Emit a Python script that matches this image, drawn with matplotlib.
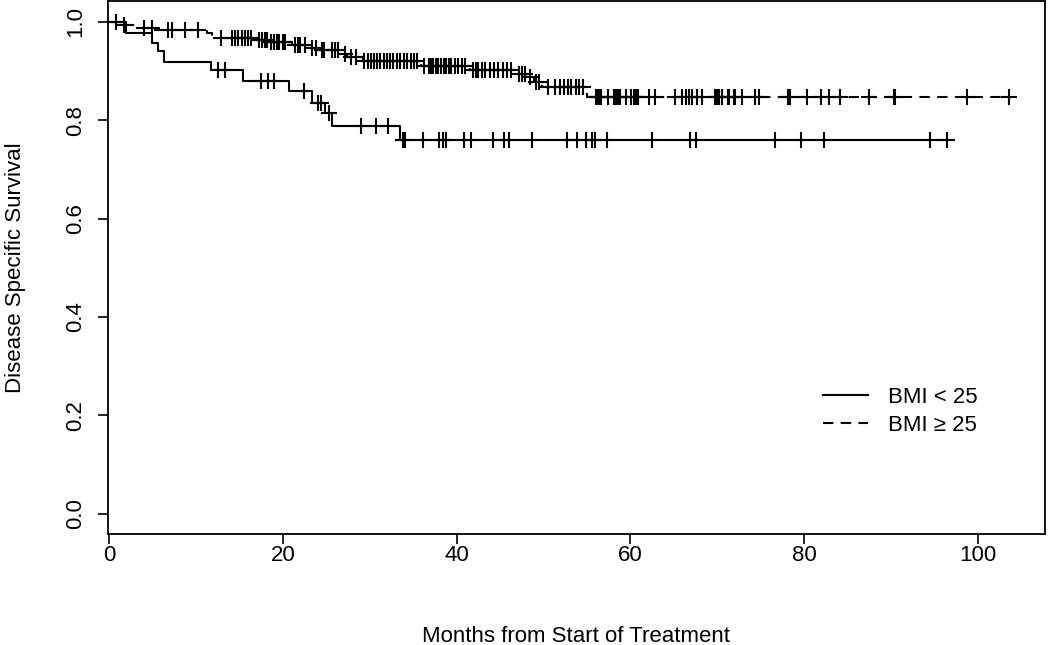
import numpy as np
import matplotlib
matplotlib.use("Agg")
import matplotlib.pyplot as plt

plt.rcParams['font.family'] = ['Liberation Sans', 'DejaVu Sans']

# BMI < 25 (solid): event times (months) and survival after each event
low_event_t = [2.0, 5.0, 5.6, 6.3, 11.7, 15.4, 20.7, 23.4, 24.9, 25.7, 33.5]
low_event_s = [0.978, 0.956, 0.941, 0.919, 0.903, 0.880, 0.859, 0.836, 0.814, 0.788, 0.760]
low_censor = [12.6, 13.3, 17.5, 18.3, 19.0, 22.4, 24.1, 24.4, 25.3, 29.0, 30.7, 32.1,
              33.8, 34.1, 36.1, 38.0, 38.4, 38.8, 40.9, 41.7, 44.2, 45.5, 46.0, 48.7,
              52.7, 53.9, 54.9, 55.6, 55.9, 57.3, 62.5, 66.9, 67.6, 76.7, 79.6, 82.3,
              94.5, 96.4]

# BMI >= 25 (dashed)
high_event_t = [1.1, 3.5, 5.2, 11.3, 11.9, 17.1, 18.4, 21.1, 23.2, 24.1, 26.7, 27.4,
                29.2, 35.9, 41.6, 46.8, 48.1, 48.9, 49.8, 55.0]
high_event_s = [0.994, 0.988, 0.984, 0.977, 0.968, 0.963, 0.959, 0.953, 0.947, 0.942,
                0.935, 0.928, 0.921, 0.911, 0.902, 0.894, 0.887, 0.877, 0.867, 0.848]
high_censor = [0.8, 1.7, 4.0, 5.0, 6.8, 7.2, 8.8, 10.2,
               12.9, 14.2, 14.5, 14.9, 15.3, 15.6, 16.0, 16.3, 17.3, 17.6, 17.9, 18.2,
               18.7, 19.0, 19.3, 19.6, 20.0, 20.3, 21.4, 21.7, 22.0, 22.5, 23.4, 23.8,
               24.5, 24.8,
               25.7, 26.0, 26.4, 27.2, 27.8, 28.4, 29.4, 29.8, 30.2, 30.5, 30.8, 31.2,
               31.6, 32.0, 32.3, 32.7, 33.1, 33.5, 33.9, 34.3, 34.7, 35.1, 35.5, 36.2,
               36.8, 37.1, 37.3, 37.6, 37.9, 38.2, 38.5, 38.8, 39.1,
               39.4, 39.8, 40.2, 40.6, 41.0, 41.9, 42.2, 42.5, 42.9, 43.3, 43.8, 44.3,
               44.8, 45.3, 45.8, 46.3, 47.2, 47.5, 47.9, 48.4, 49.2, 49.5, 50.5, 51.3,
               51.9, 52.4, 52.8, 53.2, 53.7, 54.1, 54.5,
               56.0, 56.2, 56.4, 56.6, 57.4, 58.1, 58.4, 58.6, 58.8, 59.5, 60.1, 60.4,
               60.7, 60.9, 62.2, 62.8, 65.1, 66.0, 66.4, 66.8, 67.1, 67.7, 68.3, 69.8,
               70.0, 70.2, 70.6, 71.3, 71.4, 71.9, 72.1, 72.9, 74.4, 74.8,
               78.2, 78.4, 80.3, 81.9, 82.9, 84.1, 87.5, 90.3, 90.5, 98.7, 103.6]


def km_curve(event_t, event_s, censor):
    t = np.concatenate([[0.0], event_t, [max(censor)]])
    s = np.concatenate([[1.0], event_s, [event_s[-1]]])
    idx = np.searchsorted(event_t, censor, side='right')
    cs = np.concatenate([[1.0], event_s])[idx]
    return t, s, np.array(censor), cs


fig = plt.figure(figsize=(10.5, 6.45), dpi=100)
ax = fig.add_axes([0.103, 0.172, 0.892, 0.827])

mk = dict(marker='+', linestyle='none', color='black', markersize=12, mew=1.5)

t, s, ct, cs = km_curve(low_event_t, low_event_s, low_censor)
ax.step(t, s, where='post', color='black', lw=1.5, label='BMI < 25')
ax.plot(ct, cs, **mk)

t, s, ct, cs = km_curve(high_event_t, high_event_s, high_censor)
ax.step(t, s, where='post', color='black', lw=1.5, dashes=(5, 3.5), label='BMI \u2265 25')
ax.plot(ct, cs, **mk)

ax.set_xlim(-0.1, 107.7)
ax.set_ylim(-0.041, 1.043)
ax.set_xticks([0, 20, 40, 60, 80, 100])
ax.set_yticks([0.0, 0.2, 0.4, 0.6, 0.8, 1.0])
ax.set_yticklabels(['0.0', '0.2', '0.4', '0.6', '0.8', '1.0'], rotation=90, va='center')
ax.tick_params(axis='both', direction='out', length=7, width=1.2, labelsize=16)
ax.tick_params(axis='x', pad=1)
ax.tick_params(axis='y', pad=9)
for sp in ax.spines.values():
    sp.set_linewidth(1.3)

ax.set_xlabel('Months from Start of Treatment', fontsize=16, labelpad=43)
ax.set_ylabel('Disease Specific Survival', fontsize=16, labelpad=28)

ax.legend(loc='upper left', bbox_to_anchor=(0.742, 0.314), frameon=False, fontsize=16,
          handlelength=2.0, handletextpad=0.9, labelspacing=0.32)

fig.savefig('out.png', dpi=100)
